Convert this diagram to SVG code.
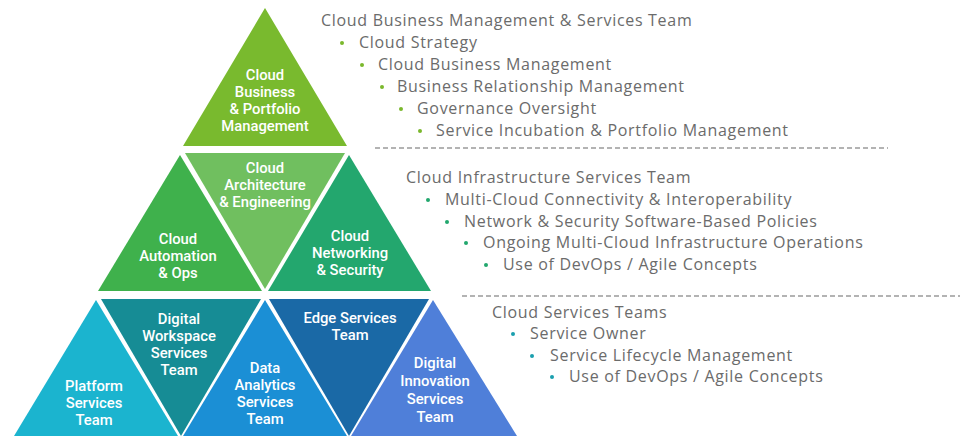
<svg xmlns="http://www.w3.org/2000/svg" width="960" height="436" viewBox="0 0 960 436">
<style>
.t{font-family:Roboto,"Open Sans","Liberation Sans",sans-serif;font-size:14.8px;fill:#ffffff;text-anchor:middle;font-weight:500}
.h{font-family:"Open Sans","Liberation Sans",sans-serif;font-size:16px;letter-spacing:0.7px;fill:#6b6b6b}
.d{stroke:#9a9a9a;stroke-width:1.5;stroke-dasharray:5 3;fill:none}
</style>
<rect width="960" height="436" fill="#ffffff"/>
<g id="cloud-business-portfolio">
<polygon points="265,8 347,146 183,146" fill="#79ba2e"/>
<text class="t" x="265" y="80">Cloud</text>
<text class="t" x="265" y="97">Business</text>
<text class="t" x="265" y="114">&amp; Portfolio</text>
<text class="t" x="265" y="131">Management</text>
</g>
<g id="cloud-automation-ops">
<polygon points="180,155 262,291 98,291" fill="#3fb14c"/>
<text class="t" x="178" y="244">Cloud</text>
<text class="t" x="178" y="261">Automation</text>
<text class="t" x="178" y="278">&amp; Ops</text>
</g>
<g id="cloud-architecture-engineering">
<polygon points="185,153 345,153 265,289" fill="#70bf5f"/>
<text class="t" x="265" y="173">Cloud</text>
<text class="t" x="265" y="190">Architecture</text>
<text class="t" x="265" y="207">&amp; Engineering</text>
</g>
<g id="cloud-networking-security">
<polygon points="349,155 431,291 268,291" fill="#23a76e"/>
<text class="t" x="350" y="241">Cloud</text>
<text class="t" x="350" y="258">Networking</text>
<text class="t" x="350" y="275">&amp; Security</text>
</g>
<g id="platform-services">
<polygon points="96,300 178,436 14,436" fill="#1bb4cf"/>
<text class="t" x="94" y="391">Platform</text>
<text class="t" x="94" y="408">Services</text>
<text class="t" x="94" y="425">Team</text>
</g>
<g id="digital-workspace-services">
<polygon points="101,299 261,299 181,436" fill="#168c95"/>
<text class="t" x="179" y="324">Digital</text>
<text class="t" x="179" y="341">Workspace</text>
<text class="t" x="179" y="358">Services</text>
<text class="t" x="179" y="375">Team</text>
</g>
<g id="data-analytics-services">
<polygon points="265,300 347,436 183,436" fill="#1b8fd5"/>
<text class="t" x="265" y="373">Data</text>
<text class="t" x="265" y="390">Analytics</text>
<text class="t" x="265" y="407">Services</text>
<text class="t" x="265" y="424">Team</text>
</g>
<g id="edge-services">
<polygon points="269,299 429,299 349,436" fill="#1a69a6"/>
<text class="t" x="350" y="323">Edge Services</text>
<text class="t" x="350" y="340">Team</text>
</g>
<g id="digital-innovation-services">
<polygon points="433,300 517,436 351,436" fill="#4f7fd9"/>
<text class="t" x="435" y="368">Digital</text>
<text class="t" x="435" y="386">Innovation</text>
<text class="t" x="435" y="404">Services</text>
<text class="t" x="435" y="422">Team</text>
</g>
<g id="connectors">
<line class="d" x1="375" y1="148" x2="888" y2="148"/>
<line class="d" x1="462" y1="296" x2="960" y2="296"/>
</g>
<g id="section-cloud-business">
<text class="h" x="321" y="26">Cloud Business Management &amp; Services Team</text>
<g fill="#7ab82c">
<circle cx="342" cy="43" r="2"/><circle cx="362" cy="65" r="2"/><circle cx="382" cy="87" r="2"/><circle cx="401" cy="109" r="2"/><circle cx="420" cy="131" r="2"/>
</g>
<text class="h" x="359" y="48">Cloud Strategy</text>
<text class="h" x="378" y="70">Cloud Business Management</text>
<text class="h" x="397" y="92">Business Relationship Management</text>
<text class="h" x="417" y="114">Governance Oversight</text>
<text class="h" x="436" y="136">Service Incubation &amp; Portfolio Management</text>
</g>
<g id="section-cloud-infrastructure">
<text class="h" x="406" y="183">Cloud Infrastructure Services Team</text>
<g fill="#22a76d">
<circle cx="428" cy="200" r="2"/><circle cx="447" cy="222" r="2"/><circle cx="466" cy="243" r="2"/><circle cx="486" cy="265" r="2"/>
</g>
<text class="h" x="445" y="205">Multi-Cloud Connectivity &amp; Interoperability</text>
<text class="h" x="464" y="227">Network &amp; Security Software-Based Policies</text>
<text class="h" x="483" y="248">Ongoing Multi-Cloud Infrastructure Operations</text>
<text class="h" x="503" y="270">Use of DevOps / Agile Concepts</text>
</g>
<g id="section-cloud-services">
<text class="h" x="492" y="318">Cloud Services Teams</text>
<g fill="#1a9fae">
<circle cx="513" cy="334" r="2"/><circle cx="532" cy="356" r="2"/><circle cx="552" cy="377" r="2"/>
</g>
<text class="h" x="530" y="339">Service Owner</text>
<text class="h" x="550" y="361">Service Lifecycle Management</text>
<text class="h" x="569" y="382">Use of DevOps / Agile Concepts</text>
</g>
</svg>
